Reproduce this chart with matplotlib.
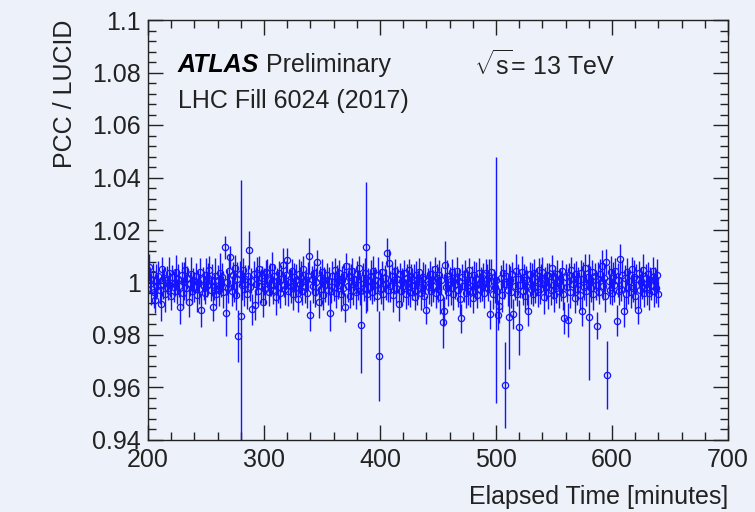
import numpy as np
import matplotlib
matplotlib.use("Agg")
import matplotlib.pyplot as plt
from matplotlib.ticker import MultipleLocator, FuncFormatter

# one measurement per minute of the fill
t_start = 201
t_stop = 641

ratio = [
    1.0058, 1.0012, 0.9975, 1.0031, 0.9962, 0.9933, 1.0004, 0.9988, 1.0026, 0.9970,
    0.9918, 1.0050, 0.9995, 1.0018, 0.9957, 1.0009, 0.9979, 1.0036, 0.9991, 0.9948,
    1.0022, 0.9983, 1.0000, 1.0041, 0.9966, 1.0013, 0.9987, 0.9905, 1.0027, 0.9959,
    1.0006, 1.0048, 0.9978, 1.0019, 0.9927, 0.9994, 1.0033, 0.9969, 1.0010, 0.9982,
    1.0025, 0.9951, 1.0003, 0.9976, 1.0039, 0.9895, 1.0014, 0.9988, 0.9961, 1.0030,
    0.9992, 1.0017, 1.0048, 0.9973, 1.0008, 0.9908, 0.9984, 1.0026, 0.9955, 1.0011,
    0.9970, 1.0037, 0.9993, 1.0021, 0.9964, 1.0134, 0.9885, 1.0002, 0.9978, 1.0044,
    1.0098, 0.9967, 1.0029, 0.9985, 1.0057, 0.9952, 1.0012, 0.9797, 1.0034, 0.9872,
    0.9990, 1.0046, 0.9974, 1.0015, 0.9958, 1.0023, 1.0124, 0.9981, 1.0007, 0.9898,
    1.0031, 0.9914, 0.9996, 1.0035, 0.9969, 1.0052, 0.9987, 1.0019, 0.9927, 1.0004,
    0.9975, 1.0040, 1.0035, 0.9962, 1.0011, 0.9989, 1.0058, 0.9971, 1.0024, 0.9946,
    1.0006, 0.9983, 1.0038, 0.9960, 1.0015, 1.0067, 0.9992, 0.9974, 1.0029, 1.0086,
    0.9968, 1.0003, 0.9987, 1.0045, 0.9955, 1.0021, 0.9979, 1.0010, 0.9938, 1.0033,
    0.9994, 1.0017, 0.9966, 1.0052, 0.9981, 1.0008, 0.9959, 1.0026, 1.0101, 0.9875,
    1.0012, 0.9985, 1.0037, 0.9964, 1.0003, 1.0077, 0.9927, 1.0018, 0.9976, 1.0040,
    0.9952, 1.0011, 0.9989, 1.0030, 0.9970, 1.0006, 0.9885, 0.9969, 1.0024, 0.9983,
    1.0047, 0.9961, 1.0015, 0.9992, 1.0036, 0.9957, 1.0009, 0.9978, 1.0028, 0.9905,
    1.0063, 0.9986, 1.0020, 0.9949, 1.0004, 1.0042, 0.9973, 1.0013, 0.9962, 1.0031,
    0.9991, 1.0054, 0.9968, 0.9839, 1.0016, 0.9980, 1.0037, 1.0134, 0.9955, 1.0008,
    0.9984, 1.0026, 0.9963, 1.0045, 0.9990, 1.0011, 0.9947, 1.0029, 0.9720, 1.0002,
    0.9976, 1.0039, 0.9958, 1.0017, 0.9993, 1.0114, 0.9970, 1.0073, 0.9985, 1.0024,
    0.9952, 1.0008, 1.0043, 0.9979, 1.0012, 0.9920, 1.0031, 0.9967, 1.0005, 0.9988,
    1.0036, 0.9956, 1.0019, 0.9982, 1.0047, 0.9964, 1.0020, 0.9990, 1.0010, 0.9943,
    1.0028, 0.9973, 1.0003, 1.0041, 0.9961, 0.9995, 1.0022, 0.9950, 1.0014, 0.9895,
    1.0006, 0.9981, 1.0034, 0.9968, 1.0011, 0.9987, 1.0053, 0.9959, 1.0018, 0.9976,
    1.0030, 0.9945, 1.0008, 0.9850, 0.9891, 1.0067, 0.9984, 1.0025, 0.9962, 1.0012,
    0.9978, 1.0039, 0.9955, 1.0016, 0.9993, 1.0044, 0.9971, 1.0007, 0.9936, 0.9864,
    1.0021, 0.9988, 1.0033, 0.9960, 1.0002, 0.9979, 1.0048, 0.9966, 1.0010, 0.9942,
    1.0027, 0.9985, 1.0014, 0.9953, 1.0036, 0.9974, 1.0006, 0.9991, 1.0029, 0.9961,
    1.0035, 1.0012, 0.9978, 1.0024, 0.9879, 1.0040, 0.9958, 1.0005, 0.9983, 1.0010,
    0.9969, 0.9876, 0.9910, 1.0018, 0.9952, 1.0035, 0.9994, 0.9610, 1.0026, 0.9971,
    0.9870, 1.0009, 0.9962, 1.0031, 0.9880, 0.9985, 1.0044, 0.9956, 1.0013, 0.9830,
    0.9990, 1.0040, 0.9968, 1.0022, 0.9947, 1.0008, 0.9981, 0.9893, 1.0032, 0.9975,
    1.0014, 0.9958, 1.0037, 0.9986, 1.0003, 0.9965, 1.0049, 0.9977, 1.0019, 1.0041,
    0.9944, 1.0010, 0.9987, 1.0030, 0.9960, 1.0023, 0.9973, 1.0056, 0.9992, 0.9951,
    1.0017, 0.9979, 1.0034, 0.9966, 1.0005, 0.9988, 1.0042, 0.9957, 0.9864, 1.0020,
    0.9981, 0.9857, 1.0027, 0.9963, 1.0046, 0.9995, 1.0012, 0.9940, 1.0031, 0.9976,
    1.0008, 0.9954, 1.0038, 0.9893, 1.0015, 0.9984, 1.0055, 0.9969, 1.0021, 0.9867,
    1.0003, 0.9978, 1.0040, 0.9958, 1.0026, 0.9991, 0.9836, 1.0012, 0.9965, 1.0034,
    1.0063, 0.9985, 1.0018, 0.9950, 1.0079, 0.9649, 1.0007, 0.9972, 1.0039, 0.9961,
    1.0024, 0.9989, 1.0045, 0.9855, 1.0010, 0.9968, 1.0088, 0.9976, 1.0030, 0.9893,
    1.0016, 0.9957, 1.0041, 0.9982, 1.0006, 0.9964, 1.0050, 0.9979, 1.0022, 0.9948,
    1.0013, 0.9895, 1.0035, 0.9970, 1.0003, 0.9986, 1.0047, 0.9959, 1.0019, 0.9975,
    1.0032, 0.9961, 1.0008, 0.9990, 1.0043, 0.9966, 1.0014, 0.9980, 1.0027, 0.9955,
]

ratio_err = [
    0.0052, 0.0047, 0.0061, 0.0044, 0.0058, 0.0049, 0.0066, 0.0043, 0.0055, 0.0050,
    0.0063, 0.0046, 0.0057, 0.0041, 0.0069, 0.0052, 0.0045, 0.0060, 0.0048, 0.0054,
    0.0044, 0.0059, 0.0051, 0.0064, 0.0047, 0.0056, 0.0042, 0.0062, 0.0050, 0.0058,
    0.0071, 0.0049, 0.0055, 0.0043, 0.0060, 0.0047, 0.0065, 0.0052, 0.0045, 0.0057,
    0.0050, 0.0062, 0.0044, 0.0058, 0.0053, 0.0066, 0.0046, 0.0055, 0.0041, 0.0063,
    0.0048, 0.0057, 0.0052, 0.0045, 0.0061, 0.0054, 0.0049, 0.0068, 0.0043, 0.0056,
    0.0059, 0.0075, 0.0047, 0.0053, 0.0062, 0.0045, 0.0090, 0.0051, 0.0056, 0.0064,
    0.0042, 0.0058, 0.0050, 0.0061, 0.0046, 0.0055, 0.0067, 0.0100, 0.0049, 0.0520,
    0.0056, 0.0047, 0.0063, 0.0051, 0.0059, 0.0044, 0.0072, 0.0053, 0.0048, 0.0060,
    0.0050, 0.0057, 0.0045, 0.0062, 0.0054, 0.0048, 0.0066, 0.0043, 0.0058, 0.0052,
    0.0061, 0.0046, 0.0055, 0.0050, 0.0064, 0.0042, 0.0057, 0.0053, 0.0047, 0.0068,
    0.0049, 0.0060, 0.0044, 0.0056, 0.0051, 0.0063, 0.0046, 0.0059, 0.0052, 0.0045,
    0.0057, 0.0050, 0.0065, 0.0043, 0.0058, 0.0054, 0.0047, 0.0062, 0.0051, 0.0056,
    0.0046, 0.0064, 0.0052, 0.0049, 0.0060, 0.0044, 0.0057, 0.0053, 0.0067, 0.0058,
    0.0051, 0.0062, 0.0045, 0.0058, 0.0054, 0.0048, 0.0061, 0.0043, 0.0066, 0.0050,
    0.0057, 0.0049, 0.0063, 0.0046, 0.0055, 0.0052, 0.0070, 0.0047, 0.0059, 0.0053,
    0.0045, 0.0060, 0.0050, 0.0056, 0.0048, 0.0064, 0.0052, 0.0058, 0.0043, 0.0055,
    0.0049, 0.0061, 0.0054, 0.0047, 0.0066, 0.0051, 0.0057, 0.0044, 0.0062, 0.0050,
    0.0058, 0.0046, 0.0053, 0.0185, 0.0060, 0.0049, 0.0055, 0.0250, 0.0064, 0.0047,
    0.0052, 0.0059, 0.0045, 0.0056, 0.0061, 0.0048, 0.0054, 0.0067, 0.0170, 0.0050,
    0.0057, 0.0044, 0.0062, 0.0051, 0.0058, 0.0055, 0.0046, 0.0053, 0.0060, 0.0049,
    0.0063, 0.0050, 0.0047, 0.0058, 0.0052, 0.0065, 0.0045, 0.0056, 0.0049, 0.0061,
    0.0048, 0.0057, 0.0053, 0.0066, 0.0044, 0.0059, 0.0051, 0.0055, 0.0062, 0.0047,
    0.0054, 0.0060, 0.0046, 0.0052, 0.0064, 0.0049, 0.0057, 0.0043, 0.0058, 0.0053,
    0.0050, 0.0063, 0.0047, 0.0056, 0.0052, 0.0061, 0.0045, 0.0058, 0.0054, 0.0049,
    0.0057, 0.0065, 0.0051, 0.0100, 0.0055, 0.0093, 0.0048, 0.0060, 0.0053, 0.0046,
    0.0062, 0.0050, 0.0058, 0.0044, 0.0056, 0.0052, 0.0064, 0.0047, 0.0059, 0.0055,
    0.0048, 0.0061, 0.0053, 0.0057, 0.0050, 0.0066, 0.0045, 0.0058, 0.0052, 0.0060,
    0.0055, 0.0047, 0.0063, 0.0051, 0.0058, 0.0049, 0.0054, 0.0062, 0.0046, 0.0057,
    0.0053, 0.0060, 0.0048, 0.0064, 0.0056, 0.0050, 0.0059, 0.0045, 0.0061, 0.0470,
    0.0052, 0.0058, 0.0066, 0.0047, 0.0063, 0.0051, 0.0055, 0.0165, 0.0049, 0.0060,
    0.0200, 0.0054, 0.0061, 0.0048, 0.0057, 0.0052, 0.0064, 0.0046, 0.0059, 0.0105,
    0.0050, 0.0062, 0.0055, 0.0047, 0.0060, 0.0053, 0.0066, 0.0058, 0.0045, 0.0056,
    0.0061, 0.0049, 0.0054, 0.0063, 0.0051, 0.0058, 0.0046, 0.0060, 0.0053, 0.0057,
    0.0064, 0.0050, 0.0056, 0.0045, 0.0061, 0.0052, 0.0059, 0.0048, 0.0055, 0.0062,
    0.0047, 0.0058, 0.0053, 0.0065, 0.0050, 0.0057, 0.0044, 0.0060, 0.0062, 0.0051,
    0.0056, 0.0066, 0.0049, 0.0059, 0.0053, 0.0046, 0.0061, 0.0055, 0.0050, 0.0063,
    0.0052, 0.0060, 0.0047, 0.0057, 0.0064, 0.0049, 0.0054, 0.0058, 0.0051, 0.0240,
    0.0059, 0.0053, 0.0046, 0.0062, 0.0050, 0.0056, 0.0052, 0.0065, 0.0048, 0.0057,
    0.0060, 0.0051, 0.0055, 0.0063, 0.0049, 0.0130, 0.0058, 0.0052, 0.0061, 0.0047,
    0.0054, 0.0062, 0.0050, 0.0058, 0.0066, 0.0053, 0.0059, 0.0045, 0.0056, 0.0061,
    0.0049, 0.0057, 0.0052, 0.0064, 0.0051, 0.0060, 0.0046, 0.0055, 0.0062, 0.0050,
    0.0058, 0.0053, 0.0047, 0.0063, 0.0056, 0.0049, 0.0061, 0.0054, 0.0052, 0.0059,
    0.0048, 0.0065, 0.0051, 0.0057, 0.0053, 0.0060, 0.0046, 0.0058, 0.0062, 0.0050,
]

minutes = np.arange(t_start, t_stop)

BG = '#edf1f9'
BLUE = '#1414ff'
INK = '#222222'
FS = 18

plt.rcParams['font.family'] = ['Liberation Sans', 'DejaVu Sans']
plt.rcParams['mathtext.fontset'] = 'custom'
plt.rcParams['mathtext.rm'] = 'Liberation Sans'
plt.rcParams['mathtext.it'] = 'Liberation Sans:italic'

fig = plt.figure(figsize=(7.55, 5.12), dpi=100, facecolor=BG)
ax = fig.add_axes([148 / 755, 1 - 440 / 512, 580 / 755, 420 / 512])
ax.set_facecolor(BG)

ax.errorbar(minutes, ratio, yerr=ratio_err, fmt='o', ms=4.5, mfc='none',
            mec=BLUE, mew=0.9, ecolor=BLUE, elinewidth=1, capsize=0)

ax.set_xlim(200, 700)
ax.set_ylim(0.94, 1.1)

# ROOT-like axes: ticks inside on every side
ax.xaxis.set_major_locator(MultipleLocator(100))
ax.xaxis.set_minor_locator(MultipleLocator(20))
ax.yaxis.set_major_locator(MultipleLocator(0.02))
ax.yaxis.set_minor_locator(MultipleLocator(0.004))
ax.yaxis.set_major_formatter(FuncFormatter(lambda v, p: f"{v:.2f}".rstrip('0').rstrip('.')))
ax.tick_params(which='both', direction='in', top=True, right=True, colors=INK,
               labelsize=FS, width=1)
ax.tick_params(which='major', length=11)
ax.tick_params(which='minor', length=5.5)
ax.tick_params(axis='y', pad=5)
ax.tick_params(axis='x', pad=6)
for s in ax.spines.values():
    s.set_color(INK)
    s.set_linewidth(1)

fig.text(65 / 755, 1 - 20 / 512, 'PCC / LUCID', rotation=90, ha='center', va='top',
         fontsize=FS, color=INK)
fig.text(728 / 755, 1 - 497 / 512, 'Elapsed Time [minutes]', ha='right', va='center',
         fontsize=FS, color=INK)

fig.text(178 / 755, 1 - 65 / 512, 'ATLAS', fontsize=FS, fontweight='bold', style='italic',
         va='center', color='black')
fig.text(266 / 755, 1 - 65 / 512, 'Preliminary', fontsize=FS, va='center', color=INK)
fig.text(474 / 755, 1 - 65 / 512, r'$\sqrt{\mathrm{s}}$= 13 TeV', fontsize=FS,
         va='center', color=INK)
fig.text(178 / 755, 1 - 101 / 512, 'LHC Fill 6024 (2017)', fontsize=FS, va='center',
         color=INK)

fig.savefig('out.png', dpi=100, facecolor=BG)
